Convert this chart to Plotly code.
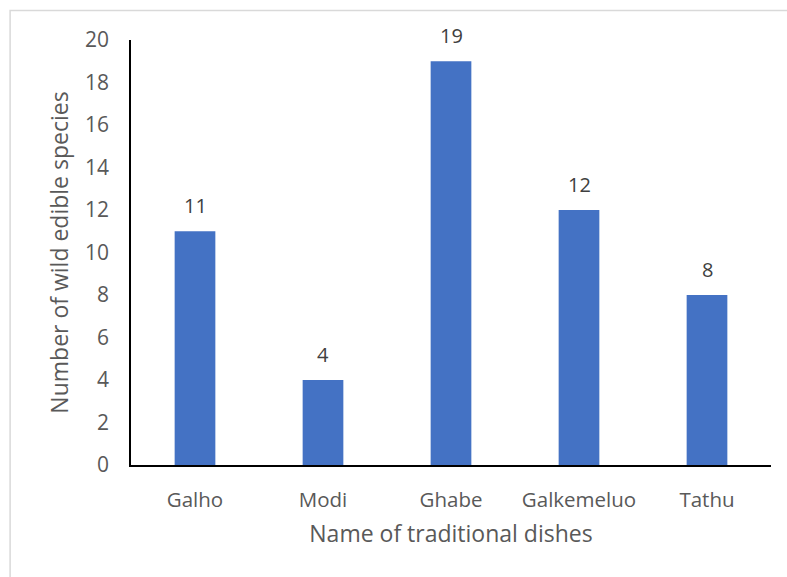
import plotly.graph_objects as go

categories = ["Galho", "Modi", "Ghabe", "Galkemeluo", "Tathu"]
values = [11, 4, 19, 12, 8]
y_ticks = [0, 2, 4, 6, 8, 10, 12, 14, 16, 18, 20]

W, H = 787, 577
L, R, T, B = 130.5, 16, 40, 112
pw, ph = W - L - R, H - T - B

font = "Open Sans"
gray = "#595959"

fig = go.Figure(go.Bar(x=categories, y=values, marker_color="#4472C4",
                       marker_line_width=0))

for c, v in zip(categories, values):
    fig.add_annotation(x=c, y=v, text=str(v), showarrow=False, yanchor="bottom",
                       yshift=10, font=dict(family=font, size=20, color="#404040"))

# outer chart frame (left and top edges visible)
fig.add_shape(type="rect", xref="paper", yref="paper",
              x0=(9.5 - L) / pw, x1=(W + 20 - L) / pw,
              y0=-(H + 20 - (T + ph)) / ph, y1=(T + ph - 10.5) / ph,
              line=dict(color="#d9d9d9", width=1.5), fillcolor="rgba(0,0,0,0)", layer="below")

fig.update_layout(
    width=W, height=H,
    margin=dict(l=L, r=R, t=T, b=B, pad=0),
    plot_bgcolor="white", paper_bgcolor="white",
    bargap=0.682,
    showlegend=False,
    font=dict(family=font, color=gray),
    xaxis=dict(showline=True, linecolor="black", linewidth=1.5, ticks="",
               tickfont=dict(size=20.5, color=gray), showgrid=False, ticklabelstandoff=16,
               title=dict(text="Name of traditional dishes", font=dict(size=23, color=gray), standoff=14)),
    yaxis=dict(range=[0, 20], tickvals=y_ticks, showline=True, linecolor="black", linewidth=1.5,
               ticks="", showgrid=False, zeroline=False,
               tickfont=dict(size=21, color=gray), ticklabelstandoff=16,
               title=dict(text="Number of wild edible species", font=dict(size=23, color=gray), standoff=10)),
)

fig.write_html("out.html")
